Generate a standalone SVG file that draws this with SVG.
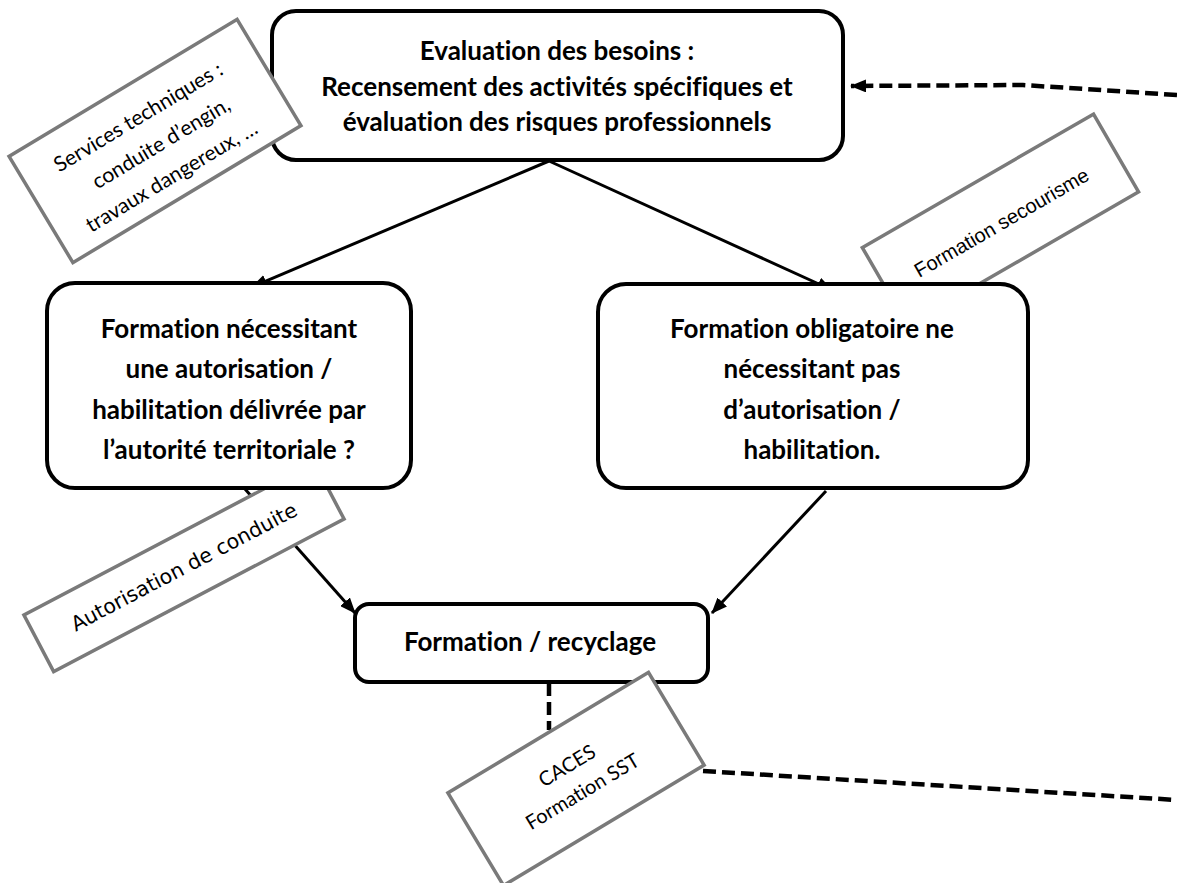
<svg xmlns="http://www.w3.org/2000/svg" width="1177" height="883" viewBox="0 0 1177 883">
<defs>
<style>
.node{fill:#fff;stroke:#000;stroke-width:4}
.note{fill:#fff;stroke:#7a7a7a;stroke-width:3.5}
.nt{font-family:Lato,"Open Sans","Liberation Sans",sans-serif;font-weight:bold;font-size:26px;fill:#000;text-anchor:middle;font-variant-ligatures:none}
.an{font-family:Lato,"Open Sans","Liberation Sans",sans-serif;font-size:21px;fill:#000;text-anchor:middle;font-variant-ligatures:none}
.arw{stroke:#000;stroke-width:3;fill:none}
.dash{stroke:#000;stroke-width:4.5;fill:none;stroke-dasharray:13 6}
</style>
<marker id="ah" viewBox="0 0 16 13" refX="15" refY="6.5" markerWidth="16" markerHeight="13" markerUnits="userSpaceOnUse" orient="auto">
<path d="M0,0 L16,6.5 L0,13 z" fill="#000"/>
</marker>
</defs>
<rect width="1177" height="883" fill="#fff"/>
<g id="connectors">
<line class="arw" x1="549" y1="161" x2="252" y2="287" marker-end="url(#ah)"/>
<line class="arw" x1="549" y1="161" x2="832" y2="290" marker-end="url(#ah)"/>
<line class="arw" x1="245" y1="489" x2="355" y2="613" marker-end="url(#ah)"/>
<line class="arw" x1="826" y1="491" x2="712" y2="613" marker-end="url(#ah)"/>
<line class="dash" x1="549" y1="683" x2="549" y2="730"/>
<polyline class="dash" points="703,771 1177,800"/>
<polyline class="dash" points="1177,95 1023,85 851,86" marker-end="url(#ah)"/>
</g>
<g id="note-autorisation" transform="translate(184,567) rotate(-27.7)">
<rect class="note" x="-164" y="-32" width="328" height="64"/>
<text class="an" x="0" y="7" style="font-family:'DejaVu Sans',sans-serif;font-size:20.5px">Autorisation de conduite</text>
</g>
<g id="note-secourisme" transform="translate(1000,220) rotate(-30)">
<rect class="note" x="-133" y="-45" width="267" height="90"/>
<text class="an" x="0" y="10" style="font-family:'Liberation Sans',Arial,sans-serif;font-size:20px">Formation secourisme</text>
</g>
<g id="node-evaluation">
<rect class="node" x="272" y="11" width="571" height="149" rx="24"/>
<text class="nt" x="557" y="60">Evaluation des besoins :</text>
<text class="nt" x="557" y="96">Recensement des activités spécifiques et</text>
<text class="nt" x="557" y="131">évaluation des risques professionnels</text>
</g>
<g id="node-autorisation">
<rect class="node" x="47" y="283" width="364" height="205" rx="28"/>
<text class="nt" x="229" y="338">Formation nécessitant</text>
<text class="nt" x="229" y="378">une autorisation /</text>
<text class="nt" x="229" y="419">habilitation délivrée par</text>
<text class="nt" x="229" y="459">l’autorité territoriale ?</text>
</g>
<g id="node-obligatoire">
<rect class="node" x="598" y="284" width="430" height="204" rx="28"/>
<text class="nt" x="812" y="338">Formation obligatoire ne</text>
<text class="nt" x="812" y="378">nécessitant pas</text>
<text class="nt" x="812" y="419">d’autorisation /</text>
<text class="nt" x="812" y="459">habilitation.</text>
</g>
<g id="node-recyclage">
<rect class="node" x="355" y="604" width="353" height="78" rx="14"/>
<text class="nt" x="530" y="651">Formation / recyclage</text>
</g>
<g id="note-services" transform="translate(155,141) rotate(-31)">
<rect class="note" x="-133" y="-62" width="266" height="124"/>
<text class="an" x="-2" y="-22">Services techniques :</text>
<text class="an" x="4" y="12">conduite d’engin,</text>
<text class="an" x="-4" y="46">travaux dangereux, …</text>
</g>
<g id="note-caces" transform="translate(576,779) rotate(-31)">
<rect class="note" x="-117" y="-54" width="234" height="108"/>
<text class="an" x="-1" y="-9" style="font-size:20px">CACES</text>
<text class="an" x="-1" y="21" style="font-size:20px">Formation SST</text>
</g>
</svg>
